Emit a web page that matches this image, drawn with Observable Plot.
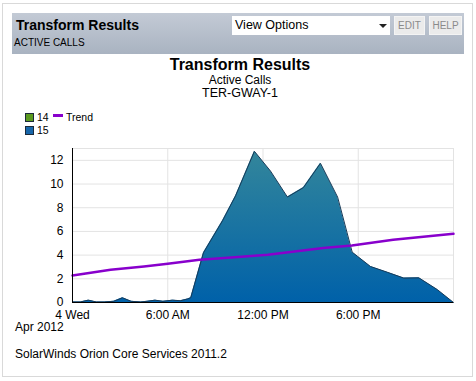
<!DOCTYPE html>
<html>
<head>
<meta charset="utf-8">
<script src="https://cdn.jsdelivr.net/npm/d3@7"></script>
<script src="https://cdn.jsdelivr.net/npm/@observablehq/plot@0.6"></script>
<style>
  html, body { margin: 0; padding: 0; background: #fff; width: 476px; height: 381px; overflow: hidden; }
  body { position: relative; font-family: "Liberation Sans", Arial, sans-serif; color: #000; }
  .abs { position: absolute; white-space: nowrap; line-height: 1; }
  #outer { left: 2px; top: 3px; width: 471px; height: 374px; border: 1px solid #d9d9d9; box-sizing: border-box; }
  #hdr { left: 12px; top: 13px; width: 452px; height: 41px; background: linear-gradient(#c3cad5, #a9b3c1); }
  #hdrTitle { left: 16px; top: 18px; font-size: 14px; font-weight: bold; }
  #hdrSub { left: 14px; top: 38px; font-size: 10px; }
  #sel { left: 232px; top: 16px; width: 158px; height: 19px; background: #fff; box-sizing: border-box; }
  #selText { left: 235px; top: 19px; font-size: 12.5px; }
  #selArrow { left: 379px; top: 24px; width: 0; height: 0; border-left: 4px solid transparent; border-right: 4px solid transparent; border-top: 4px solid #222; }
  .btn { top: 16px; height: 19px; background: #ebebeb; box-sizing: border-box; border: 1px solid #f4f4f4; color: #8a8a8a; font-size: 10px; line-height: 17px; text-align: center; }
  #cTitle { left: 0; width: 480px; text-align: center; top: 57px; font-size: 16px; font-weight: bold; }
  #cSub1 { left: 0; width: 480px; text-align: center; top: 74px; font-size: 12px; }
  #cSub2 { left: 0; width: 480px; text-align: center; top: 87px; font-size: 12.5px; }
  .sw { width: 9px; height: 9px; box-sizing: border-box; border: 1px solid #1b2a3a; }
  .lg { font-size: 10.5px; }
  #chart { left: 0; top: 138px; }
  #apr { left: 15px; top: 321px; font-size: 12px; }
  #foot { left: 15px; top: 348px; font-size: 12px; }
</style>
</head>
<body>
<div class="abs" id="outer"></div>
<div class="abs" id="hdr"></div>
<div class="abs" id="hdrTitle">Transform Results</div>
<div class="abs" id="hdrSub">ACTIVE CALLS</div>
<div class="abs" id="sel"></div>
<div class="abs" id="selText">View Options</div>
<div class="abs" id="selArrow"></div>
<div class="abs btn" style="left:394px;width:31px;">EDIT</div>
<div class="abs btn" style="left:429px;width:33px;">HELP</div>
<div class="abs" id="cTitle">Transform Results</div>
<div class="abs" id="cSub1">Active Calls</div>
<div class="abs" id="cSub2">TER-GWAY-1</div>
<div class="abs sw" style="left:25px;top:113px;background:#5b9a1f;"></div>
<div class="abs lg" style="left:37px;top:112px;">14</div>
<div class="abs" style="left:53px;top:114px;width:10px;height:3px;background:#8800cc;"></div>
<div class="abs lg" style="left:66px;top:112px;">Trend</div>
<div class="abs sw" style="left:25px;top:126px;background:#1766aa;"></div>
<div class="abs lg" style="left:37px;top:125px;">15</div>
<div class="abs" id="chart"></div>
<div class="abs" id="apr">Apr 2012</div>
<div class="abs" id="foot">SolarWinds Orion Core Services 2011.2</div>
<script>
// Series "15": hours after midnight, 4 Apr 2012, and active calls
const areaHours  = [0, 0.5, 1.0, 1.5, 2.0, 2.6, 3.15, 3.7, 4.3, 4.7, 5.2, 5.7, 6.3, 6.8, 7.25, 7.45, 8.25, 9.45, 10.27, 11.46, 12.47, 13.54, 14.55, 15.62, 16.7, 17.62, 17.95, 18.77, 19.82, 20.87, 21.82, 22.97, 24];
const areaValues = [0.05, 0.05, 0.2, 0.05, 0.05, 0.1, 0.4, 0.1, 0.05, 0.1, 0.2, 0.1, 0.2, 0.15, 0.3, 0.4, 4.2, 6.9, 9.0, 12.76, 11.1, 8.9, 9.7, 11.75, 8.9, 4.25, 3.9, 3.04, 2.56, 2.06, 2.08, 1.1, 0];
// Trend line
const trendHours  = [0, 2.4, 4.5, 6, 8, 10, 12.3, 15.8, 17.6, 20.2, 24];
const trendValues = [2.28, 2.76, 3.04, 3.27, 3.6, 3.8, 4.03, 4.6, 4.82, 5.3, 5.8];
// Axis ticks
const xTickHours  = [0, 6, 12, 18];
const xTickLabels = ["4 Wed", "6:00 AM", "12:00 PM", "6:00 PM"];
const yTicks = [0, 2, 4, 6, 8, 10, 12];

const base = Date.UTC(2012, 3, 4);
const toDate = h => new Date(base + h * 3600000);
const area = areaHours.map((h, i) => ({t: toDate(h), v: areaValues[i]}));
const trend = trendHours.map((h, i) => ({t: toDate(h), v: trendValues[i]}));
const xTicks = xTickHours.map(toDate);
const labelOf = new Map(xTicks.map((d, i) => [+d, xTickLabels[i]]));

const svg = Plot.plot({
  width: 476,
  height: 200,
  marginLeft: 72,
  marginRight: 23,
  marginTop: 10,
  marginBottom: 36,
  style: {fontFamily: "'Liberation Sans', Arial, sans-serif", fontSize: "12px", color: "#000", background: "transparent", overflow: "visible"},
  x: {type: "utc", domain: [toDate(0), toDate(24)], ticks: xTicks, tickFormat: d => labelOf.get(+d), tickSize: 0, tickPadding: 8, label: null},
  y: {domain: [0, 13], ticks: yTicks, tickSize: 0, tickPadding: 9, label: null},
  marks: [
    Plot.gridY(yTicks.slice(1), {stroke: "#e3e3e3", strokeOpacity: 1}),
    Plot.gridX(xTicks.slice(1), {stroke: "#e3e3e3", strokeOpacity: 1}),
    Plot.ruleY([13], {stroke: "#e3e3e3"}),
    Plot.ruleX([toDate(24)], {stroke: "#e3e3e3"}),
    Plot.areaY(area, {x: "t", y: "v", fill: "url(#areaGrad)"}),
    Plot.lineY(area, {x: "t", y: "v", stroke: "#173a58", strokeWidth: 1}),
    Plot.lineY(trend, {x: "t", y: "v", stroke: "#8800cc", strokeWidth: 2.5}),
    Plot.ruleY([0], {stroke: "#000"}),
    Plot.ruleX([toDate(0)], {stroke: "#000"})
  ]
});

const g = d3.select(svg).insert("defs", ":first-child")
  .append("linearGradient").attr("id", "areaGrad")
  .attr("x1", 0).attr("y1", 0).attr("x2", 0).attr("y2", 1);
g.append("stop").attr("offset", "0%").attr("stop-color", "#33869b");
g.append("stop").attr("offset", "100%").attr("stop-color", "#0061a9");

document.getElementById("chart").appendChild(svg);
</script>
</body>
</html>
